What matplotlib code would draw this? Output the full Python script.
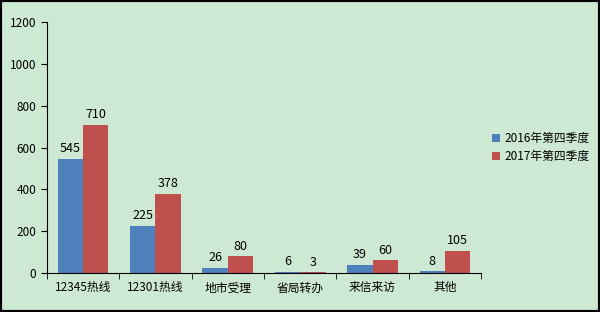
import matplotlib
matplotlib.use("Agg")
import matplotlib.pyplot as plt
import numpy as np
from matplotlib.patches import Rectangle

plt.rcParams['font.family'] = ['Noto Sans CJK SC', 'DejaVu Sans']

categories = ["12345热线", "12301热线", "地市受理", "省局转办", "来信来访", "其他"]
q4_2016 = [545, 225, 26, 6, 39, 8]
q4_2017 = [710, 378, 80, 3, 60, 105]
series_names = ["2016年第四季度", "2017年第四季度"]
colors = ["#4f81bd", "#c0504d"]
bg = "#cde9d3"

fig = plt.figure(figsize=(6, 3.12), dpi=100, facecolor=bg)
ax = fig.add_axes([0.078, 0.125, 0.724, 0.804])
ax.set_facecolor(bg)

x = np.arange(len(categories))
w = 0.35
b1 = ax.bar(x - w / 2, q4_2016, w, color=colors[0], label=series_names[0])
b2 = ax.bar(x + w / 2, q4_2017, w, color=colors[1], label=series_names[1])
for bars, vals in ((b1, q4_2016), (b2, q4_2017)):
    for r, v in zip(bars, vals):
        ax.text(r.get_x() + r.get_width() / 2, v + 18, str(v),
                ha="center", va="bottom", fontsize=9)

ax.set_xlim(-0.5, len(categories) - 0.5)
ax.set_ylim(0, 1200)
ax.set_yticks(range(0, 1201, 200))
ax.set_xticks(x)
ax.set_xticklabels(categories, fontsize=8.5)
ax.set_xticks(np.arange(-0.5, len(categories)), minor=True)
ax.tick_params(axis="x", which="major", length=0, pad=6)
ax.tick_params(axis="x", which="minor", length=4, direction="out")
ax.tick_params(axis="y", labelsize=8.5, length=4, direction="out")
for s in ("top", "right"):
    ax.spines[s].set_visible(False)

ax.legend(loc="center left", bbox_to_anchor=(1.0, 0.5), frameon=False,
          fontsize=8.5, handlelength=0.7, handleheight=0.7, handletextpad=0.4,
          labelspacing=0.4)

fig.patches.append(Rectangle((0, 0), 1, 1, transform=fig.transFigure,
                             fill=False, edgecolor="black", linewidth=3))

fig.savefig("out.png", dpi=100, facecolor=bg)
